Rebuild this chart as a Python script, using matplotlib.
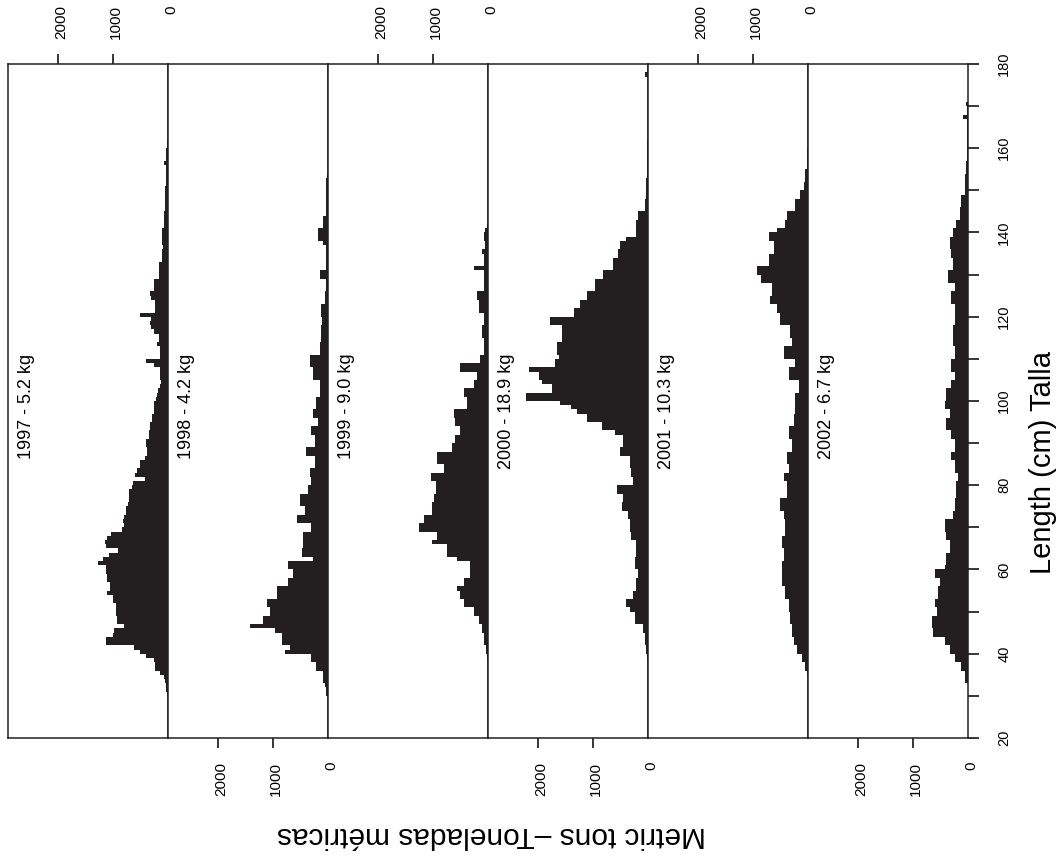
import numpy as np
import matplotlib
matplotlib.use('Agg')
import matplotlib.pyplot as plt
from matplotlib.transforms import blended_transform_factory

plt.rcParams['font.family'] = ['Liberation Sans', 'DejaVu Sans']

# 1. data: catch in metric tons per 1-cm length bin (bins 30..179 cm)
lengths = np.arange(30, 180)

years = ['1997', '1998', '1999', '2000', '2001', '2002']
panel_labels = ['1997 - 5.2 kg', '1998 - 4.2 kg', '1999 - 9.0 kg',
                '2000 - 18.9 kg', '2001 - 10.3 kg', '2002 - 6.7 kg']

tons_1997 = [
    20, 30, 40, 60, 80, 150, 230, 230, 250, 400,
    500, 620, 1130, 1130, 1000, 980, 800, 920, 920, 940,
    950, 950, 1000, 1000, 1100, 1050, 1050, 1110, 1110, 1120,
    1120, 1260, 1180, 1070, 900, 1130, 1150, 1100, 1040, 830,
    800, 810, 790, 770, 770, 720, 710, 700, 710, 650,
    640, 420, 600, 560, 500, 500, 420, 380, 380, 400,
    400, 350, 350, 330, 330, 290, 290, 260, 260, 250,
    220, 200, 180, 150, 120, 140, 150, 140, 250, 400,
    140, 140, 150, 200, 170, 160, 250, 300, 320, 300,
    500, 230, 230, 240, 310, 320, 260, 260, 250, 170,
    170, 170, 160, 100, 110, 100, 90, 110, 110, 110,
    100, 80, 80, 80, 70, 50, 50, 50, 50, 50,
    50, 35, 35, 35, 35, 35, 80, 30, 30, 30,
    20, 10, 0, 0, 0, 0, 0, 0, 0, 0,
    0, 0, 0, 0, 0, 0, 0, 0, 0, 0,
]

tons_1998 = [
    40, 40, 60, 90, 90, 90, 210, 210, 300, 300,
    780, 690, 840, 840, 840, 960, 1410, 1170, 1170, 1050,
    1050, 1110, 1110, 930, 930, 930, 720, 720, 630, 630,
    720, 720, 270, 480, 480, 450, 450, 450, 450, 300,
    300, 570, 570, 420, 420, 510, 510, 510, 360, 360,
    300, 300, 330, 330, 240, 240, 240, 390, 390, 240,
    240, 240, 300, 300, 180, 180, 270, 270, 210, 210,
    210, 150, 150, 150, 150, 270, 270, 270, 330, 330,
    330, 150, 150, 150, 120, 120, 120, 120, 100, 100,
    120, 120, 120, 60, 60, 60, 40, 40, 40, 150,
    150, 40, 40, 40, 40, 40, 40, 90, 180, 180,
    180, 90, 90, 90, 40, 40, 40, 40, 40, 40,
    40, 40, 40, 20, 0, 0, 0, 0, 0, 0,
    0, 0, 0, 0, 0, 0, 0, 0, 0, 0,
    0, 0, 0, 0, 0, 0, 0, 0, 0, 0,
]

tons_1999 = [
    0, 0, 0, 0, 0, 0, 0, 0, 10, 20,
    30, 30, 80, 80, 80, 110, 110, 170, 170, 260,
    260, 440, 440, 500, 500, 560, 440, 440, 320, 320,
    320, 320, 560, 740, 740, 740, 1010, 920, 920, 1250,
    1250, 1160, 1160, 1010, 1010, 1010, 980, 980, 950, 950,
    950, 1040, 1040, 800, 800, 920, 920, 920, 650, 650,
    590, 590, 500, 500, 590, 590, 620, 620, 380, 380,
    380, 440, 440, 260, 260, 200, 200, 500, 500, 140,
    140, 80, 80, 80, 80, 110, 110, 110, 80, 80,
    80, 170, 170, 170, 200, 200, 80, 80, 80, 80,
    80, 260, 80, 80, 80, 110, 50, 50, 80, 80,
    50, 20, 0, 0, 0, 0, 0, 0, 0, 0,
    0, 0, 0, 0, 0, 0, 0, 0, 0, 0,
    0, 0, 0, 0, 0, 0, 0, 0, 0, 0,
    0, 0, 0, 0, 0, 0, 0, 0, 0, 0,
]

tons_2000 = [
    0, 0, 0, 0, 0, 0, 0, 0, 10, 20,
    30, 30, 60, 60, 60, 90, 90, 240, 240, 240,
    330, 390, 390, 270, 270, 210, 210, 210, 180, 180,
    240, 240, 240, 210, 210, 210, 210, 300, 300, 330,
    330, 330, 360, 360, 480, 480, 450, 450, 570, 570,
    270, 270, 300, 300, 330, 330, 330, 510, 510, 450,
    450, 450, 600, 840, 840, 1110, 1110, 1290, 1400, 1590,
    2220, 2220, 1740, 1740, 1920, 1980, 1980, 2160, 1680, 1680,
    1620, 1650, 1650, 1650, 1560, 1560, 1560, 1560, 1770, 1770,
    1350, 1350, 1230, 1230, 1110, 1110, 960, 960, 960, 810,
    810, 630, 630, 630, 540, 540, 510, 510, 390, 210,
    210, 210, 210, 180, 180, 60, 60, 60, 30, 30,
    30, 30, 30, 10, 10, 10, 10, 10, 10, 10,
    10, 10, 5, 5, 5, 5, 5, 5, 5, 5,
    5, 5, 5, 5, 5, 5, 5, 60, 0, 0,
]

tons_2001 = [
    0, 0, 0, 0, 0, 10, 50, 50, 110, 110,
    200, 200, 260, 260, 290, 290, 290, 320, 320, 320,
    350, 350, 350, 410, 410, 410, 470, 470, 470, 470,
    470, 470, 440, 440, 440, 470, 470, 470, 410, 410,
    410, 410, 440, 440, 500, 500, 500, 380, 380, 380,
    380, 440, 440, 350, 350, 380, 380, 380, 290, 290,
    290, 350, 350, 350, 260, 260, 260, 230, 230, 230,
    230, 230, 170, 170, 170, 350, 350, 350, 230, 230,
    440, 440, 440, 290, 290, 320, 320, 320, 500, 500,
    500, 560, 560, 680, 680, 650, 650, 650, 860, 860,
    920, 920, 710, 710, 710, 620, 620, 620, 710, 710,
    560, 410, 410, 380, 380, 230, 230, 230, 140, 140,
    80, 80, 50, 50, 50, 20, 20, 20, 20, 20,
    0, 0, 0, 0, 0, 0, 0, 0, 0, 0,
    0, 0, 0, 0, 0, 0, 0, 0, 0, 0,
]

tons_2002 = [
    0, 0, 0, 60, 60, 60, 120, 120, 240, 240,
    330, 330, 420, 420, 630, 630, 660, 660, 660, 570,
    570, 600, 600, 540, 540, 540, 510, 510, 600, 600,
    420, 390, 390, 390, 330, 330, 330, 390, 390, 420,
    420, 420, 270, 270, 240, 240, 240, 210, 210, 210,
    210, 180, 180, 240, 240, 240, 300, 300, 240, 240,
    240, 300, 300, 390, 390, 390, 330, 330, 420, 420,
    390, 390, 390, 300, 300, 240, 240, 300, 300, 300,
    240, 240, 240, 270, 270, 270, 270, 270, 240, 240,
    240, 240, 240, 300, 300, 300, 240, 240, 360, 360,
    360, 270, 270, 270, 300, 300, 330, 330, 330, 270,
    270, 210, 210, 150, 150, 150, 120, 120, 120, 60,
    60, 60, 60, 60, 30, 30, 30, 10, 10, 10,
    10, 10, 10, 10, 10, 10, 10, 90, 10, 10,
    40, 0, 0, 0, 0, 0, 0, 0, 0, 0,
]

all_tons = [tons_1997, tons_1998, tons_1999, tons_2000, tons_2001, tons_2002]

ton_ticks = [0, 1000, 2000]
length_ticks = np.arange(20, 181, 10)

# 2. figure: the whole chart is laid on its side, panels side by side
W, H = 1062, 858
fig = plt.figure(figsize=(W / 100, H / 100), dpi=100)

bar_color = '#231f20'
panel_w = 160
box_left, box_top, box_bottom = 8, 64, 738

for i, (tons, label) in enumerate(zip(all_tons, panel_labels)):
    left = box_left + panel_w * i
    ax = fig.add_axes([left / W, 1 - box_bottom / H,
                       panel_w / W, (box_bottom - box_top) / H])
    ax.barh(lengths, tons, height=1.0, align='edge', color=bar_color,
            edgecolor='none')
    ax.set_ylim(20, 180)
    ax.set_xlim(2900, 0)
    for sp in ax.spines.values():
        sp.set_linewidth(1.1)
        sp.set_color('#231f20')

    # tonnage ticks alternate top / bottom
    ax.set_xticks([1000, 2000])
    on_top = (i % 2 == 0)
    if on_top:
        ax.xaxis.set_ticks_position('top')
    else:
        ax.xaxis.set_ticks_position('bottom')
    ax.tick_params(axis='x', direction='out', length=7.5, width=1.1,
                   labeltop=False, labelbottom=False)
    tr = blended_transform_factory(ax.transData, fig.transFigure)
    y_lab = 1 - 5 / H if on_top else 1 - 762 / H
    for t in ton_ticks:
        ax.text(t - 60, y_lab, str(t), transform=tr, rotation=90,
                ha='center', va='top', fontsize=11)

    # length ticks only on the last panel
    if i == len(all_tons) - 1:
        ax.yaxis.tick_right()
        ax.set_yticks(length_ticks)
        ax.set_yticklabels([str(v) if v % 20 == 0 else '' for v in length_ticks])
        ax.tick_params(axis='y', direction='out', length=8, width=1.1,
                       labelrotation=90, pad=13, labelsize=10.5)
        for tl in ax.get_yticklabels():
            tl.set_va('center')
    else:
        ax.tick_params(axis='y', left=False, right=False,
                       labelleft=False, labelright=False)

    ax.text(0.06, 111.2, label, transform=ax.get_yaxis_transform(),
            rotation=90, rotation_mode='anchor', ha='right', va='top',
            fontsize=13)

# 3. axis titles
fig.text(492 / W, 1 - 835 / H, 'Metric tons \u2013Toneladas métricas',
         rotation=180, ha='center', va='center', fontsize=21.5)
fig.text(1043 / W, 1 - 463 / H, 'Length (cm) Talla',
         rotation=90, ha='center', va='center', fontsize=21)

fig.savefig('out.png', dpi=100)
